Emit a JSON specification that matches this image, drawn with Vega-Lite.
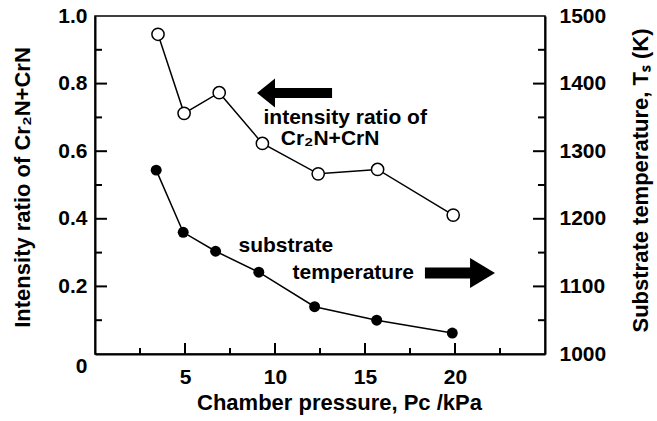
{
  "$schema": "https://vega.github.io/schema/vega-lite/v6.json",
  "width": 450,
  "height": 338,
  "autosize": {"type": "none"},
  "padding": {"left": 95, "top": 16, "right": 112, "bottom": 67},
  "background": "white",
  "config": {
    "view": {"stroke": "black", "strokeWidth": 1.5},
    "font": "Liberation Sans"
  },
  "datasets": {
    "ratio": [
      {"p": 3.5, "r": 0.946},
      {"p": 4.95, "r": 0.712},
      {"p": 6.9, "r": 0.773},
      {"p": 9.3, "r": 0.623},
      {"p": 12.4, "r": 0.533},
      {"p": 15.7, "r": 0.546},
      {"p": 19.9, "r": 0.411}
    ],
    "temp": [
      {"p": 3.4, "T": 1272},
      {"p": 4.9, "T": 1180},
      {"p": 6.7, "T": 1152},
      {"p": 9.1, "T": 1121},
      {"p": 12.2, "T": 1070},
      {"p": 15.65, "T": 1050},
      {"p": 19.85, "T": 1031}
    ],
    "xMajor": [{"p": 5}, {"p": 10}, {"p": 15}, {"p": 20}],
    "xMinor": [{"p": 2.5}, {"p": 7.5}, {"p": 12.5}, {"p": 17.5}, {"p": 22.5}],
    "rMajor": [{"r": 0.2}, {"r": 0.4}, {"r": 0.6}, {"r": 0.8}],
    "rMinor": [{"r": 0.1}, {"r": 0.3}, {"r": 0.5}, {"r": 0.7}, {"r": 0.9}],
    "tMajor": [{"T": 1100}, {"T": 1200}, {"T": 1300}, {"T": 1400}],
    "tMinor": [{"T": 1050}, {"T": 1150}, {"T": 1250}, {"T": 1350}, {"T": 1450}],
    "shaftL": [{"x1": 9.9, "x2": 13.17, "y": 0.772}],
    "headL": [{"x": 9.5, "y": 0.772}],
    "shaftR": [{"x1": 18.33, "x2": 21.0, "y": 0.24}],
    "headR": [{"x": 21.53, "y": 0.24}],
    "notes": [
      {"x": 13.9, "y": 0.697, "t": "intensity ratio of"},
      {"x": 13.06, "y": 0.637, "t": "Cr₂N+CrN"},
      {"x": 10.6, "y": 0.32, "t": "substrate"},
      {"x": 14.35, "y": 0.24, "t": "temperature"}
    ]
  },
  "layer": [
    {
      "layer": [
        {
          "data": {"name": "ratio"},
          "mark": {"type": "line", "color": "black", "strokeWidth": 1.5},
          "encoding": {
            "x": {
              "field": "p", "type": "quantitative",
              "scale": {"domain": [0, 25], "nice": false, "zero": false},
              "axis": {
                "orient": "bottom",
                "grid": false,
                "ticks": false,
                "domainColor": "black",
                "domainWidth": 2,
                "labelFont": "Liberation Sans",
                "labelFontWeight": "bold",
                "labelFontSize": 21,
                "labelColor": "black",
                "titleFont": "Liberation Sans",
                "titleFontWeight": "bold",
                "titleFontSize": 22,
                "titleColor": "black",
                "title": "Chamber pressure, Pc /kPa",
                "values": [5, 10, 15, 20],
                "labelPadding": 12,
                "titleX": 244,
                "titleY": 48,
                "titleBaseline": "middle",
                "titleAlign": "center"
              }
            },
            "y": {
              "field": "r", "type": "quantitative",
              "scale": {"domain": [0, 1], "nice": false},
              "axis": {
                "orient": "left",
                "grid": false,
                "ticks": false,
                "domainColor": "black",
                "domainWidth": 2,
                "labelFont": "Liberation Sans",
                "labelFontWeight": "bold",
                "labelFontSize": 21,
                "labelColor": "black",
                "titleFont": "Liberation Sans",
                "titleFontWeight": "bold",
                "titleFontSize": 22,
                "titleColor": "black",
                "title": "Intensity ratio of Cr₂N+CrN",
                "values": [0, 0.2, 0.4, 0.6, 0.8, 1.0],
                "labelExpr": "datum.value == 0 ? '0' : format(datum.value, '.1f')",
                "labelPadding": 8,
                "labelOffset": {"condition": {"test": "datum.value == 0", "value": 12}, "value": 0},
                "titleX": -73,
                "titleY": 171,
                "titleAngle": 270,
                "titleBaseline": "middle",
                "titleAlign": "center"
              }
            }
          }
        },
        {
          "data": {"name": "xMajor"},
          "mark": {"type": "tick", "orient": "vertical", "size": 22, "thickness": 2, "color": "black", "opacity": 1, "clip": true},
          "encoding": {
            "x": {"field": "p", "type": "quantitative"},
            "y": {"datum": 0, "type": "quantitative"}
          }
        },
        {
          "data": {"name": "xMinor"},
          "mark": {"type": "tick", "orient": "vertical", "size": 12, "thickness": 2, "color": "black", "opacity": 1, "clip": true},
          "encoding": {
            "x": {"field": "p", "type": "quantitative"},
            "y": {"datum": 0, "type": "quantitative"}
          }
        },
        {
          "data": {"name": "rMajor"},
          "mark": {"type": "tick", "orient": "horizontal", "size": 24, "thickness": 2, "color": "black", "opacity": 1, "clip": true},
          "encoding": {
            "x": {"datum": 0, "type": "quantitative"},
            "y": {"field": "r", "type": "quantitative"}
          }
        },
        {
          "data": {"name": "rMinor"},
          "mark": {"type": "tick", "orient": "horizontal", "size": 14, "thickness": 2, "color": "black", "opacity": 1, "clip": true},
          "encoding": {
            "x": {"datum": 0, "type": "quantitative"},
            "y": {"field": "r", "type": "quantitative"}
          }
        },
        {
          "data": {"name": "ratio"},
          "mark": {"type": "point", "shape": "circle", "filled": true, "fill": "white", "stroke": "black", "strokeWidth": 1.5, "size": 150, "opacity": 1},
          "encoding": {
            "x": {"field": "p", "type": "quantitative"},
            "y": {"field": "r", "type": "quantitative"}
          }
        },
        {
          "data": {"name": "shaftL"},
          "mark": {"type": "rule", "color": "black", "strokeWidth": 10, "strokeCap": "butt"},
          "encoding": {
            "x": {"field": "x1", "type": "quantitative"},
            "x2": {"field": "x2"},
            "y": {"field": "y", "type": "quantitative"}
          }
        },
        {
          "data": {"name": "headL"},
          "mark": {"type": "point", "shape": "M-0.62,0L0.62,-1L0.62,1Z", "filled": true, "color": "black", "opacity": 1, "size": 841},
          "encoding": {
            "x": {"field": "x", "type": "quantitative"},
            "y": {"field": "y", "type": "quantitative"}
          }
        },
        {
          "data": {"name": "shaftR"},
          "mark": {"type": "rule", "color": "black", "strokeWidth": 11, "strokeCap": "butt"},
          "encoding": {
            "x": {"field": "x1", "type": "quantitative"},
            "x2": {"field": "x2"},
            "y": {"field": "y", "type": "quantitative"}
          }
        },
        {
          "data": {"name": "headR"},
          "mark": {"type": "point", "shape": "M0.83,0L-0.83,-1L-0.83,1Z", "filled": true, "color": "black", "opacity": 1, "size": 900},
          "encoding": {
            "x": {"field": "x", "type": "quantitative"},
            "y": {"field": "y", "type": "quantitative"}
          }
        },
        {
          "data": {"name": "notes"},
          "mark": {"type": "text", "font": "Liberation Sans", "fontWeight": "bold", "fontSize": 21, "color": "black", "align": "center", "baseline": "middle"},
          "encoding": {
            "x": {"field": "x", "type": "quantitative"},
            "y": {"field": "y", "type": "quantitative"},
            "text": {"field": "t"}
          }
        }
      ]
    },
    {
      "layer": [
        {
          "data": {"name": "temp"},
          "mark": {"type": "line", "color": "black", "strokeWidth": 1.5},
          "encoding": {
            "x": {"field": "p", "type": "quantitative"},
            "y": {
              "field": "T", "type": "quantitative",
              "scale": {"domain": [1000, 1500], "nice": false, "zero": false},
              "axis": {
                "orient": "right",
                "grid": false,
                "ticks": false,
                "domainColor": "black",
                "domainWidth": 2,
                "labelFont": "Liberation Sans",
                "labelFontWeight": "bold",
                "labelFontSize": 21,
                "labelColor": "black",
                "titleFont": "Liberation Sans",
                "titleFontWeight": "bold",
                "titleFontSize": 22,
                "titleColor": "black",
                "title": "Substrate temperature, Tₛ (K)",
                "values": [1000, 1100, 1200, 1300, 1400, 1500],
                "format": "d",
                "labelPadding": 14,
                "titleX": 95,
                "titleY": 164,
                "titleAngle": 270,
                "titleBaseline": "middle",
                "titleAlign": "center"
              }
            }
          }
        },
        {
          "data": {"name": "tMajor"},
          "mark": {"type": "tick", "orient": "horizontal", "size": 24, "thickness": 2, "color": "black", "opacity": 1, "clip": true},
          "encoding": {
            "x": {"datum": 25, "type": "quantitative"},
            "y": {"field": "T", "type": "quantitative"}
          }
        },
        {
          "data": {"name": "tMinor"},
          "mark": {"type": "tick", "orient": "horizontal", "size": 14, "thickness": 2, "color": "black", "opacity": 1, "clip": true},
          "encoding": {
            "x": {"datum": 25, "type": "quantitative"},
            "y": {"field": "T", "type": "quantitative"}
          }
        },
        {
          "data": {"name": "temp"},
          "mark": {"type": "point", "shape": "circle", "filled": true, "color": "black", "size": 120, "opacity": 1},
          "encoding": {
            "x": {"field": "p", "type": "quantitative"},
            "y": {"field": "T", "type": "quantitative"}
          }
        }
      ]
    }
  ],
  "resolve": {"scale": {"y": "independent"}}
}
